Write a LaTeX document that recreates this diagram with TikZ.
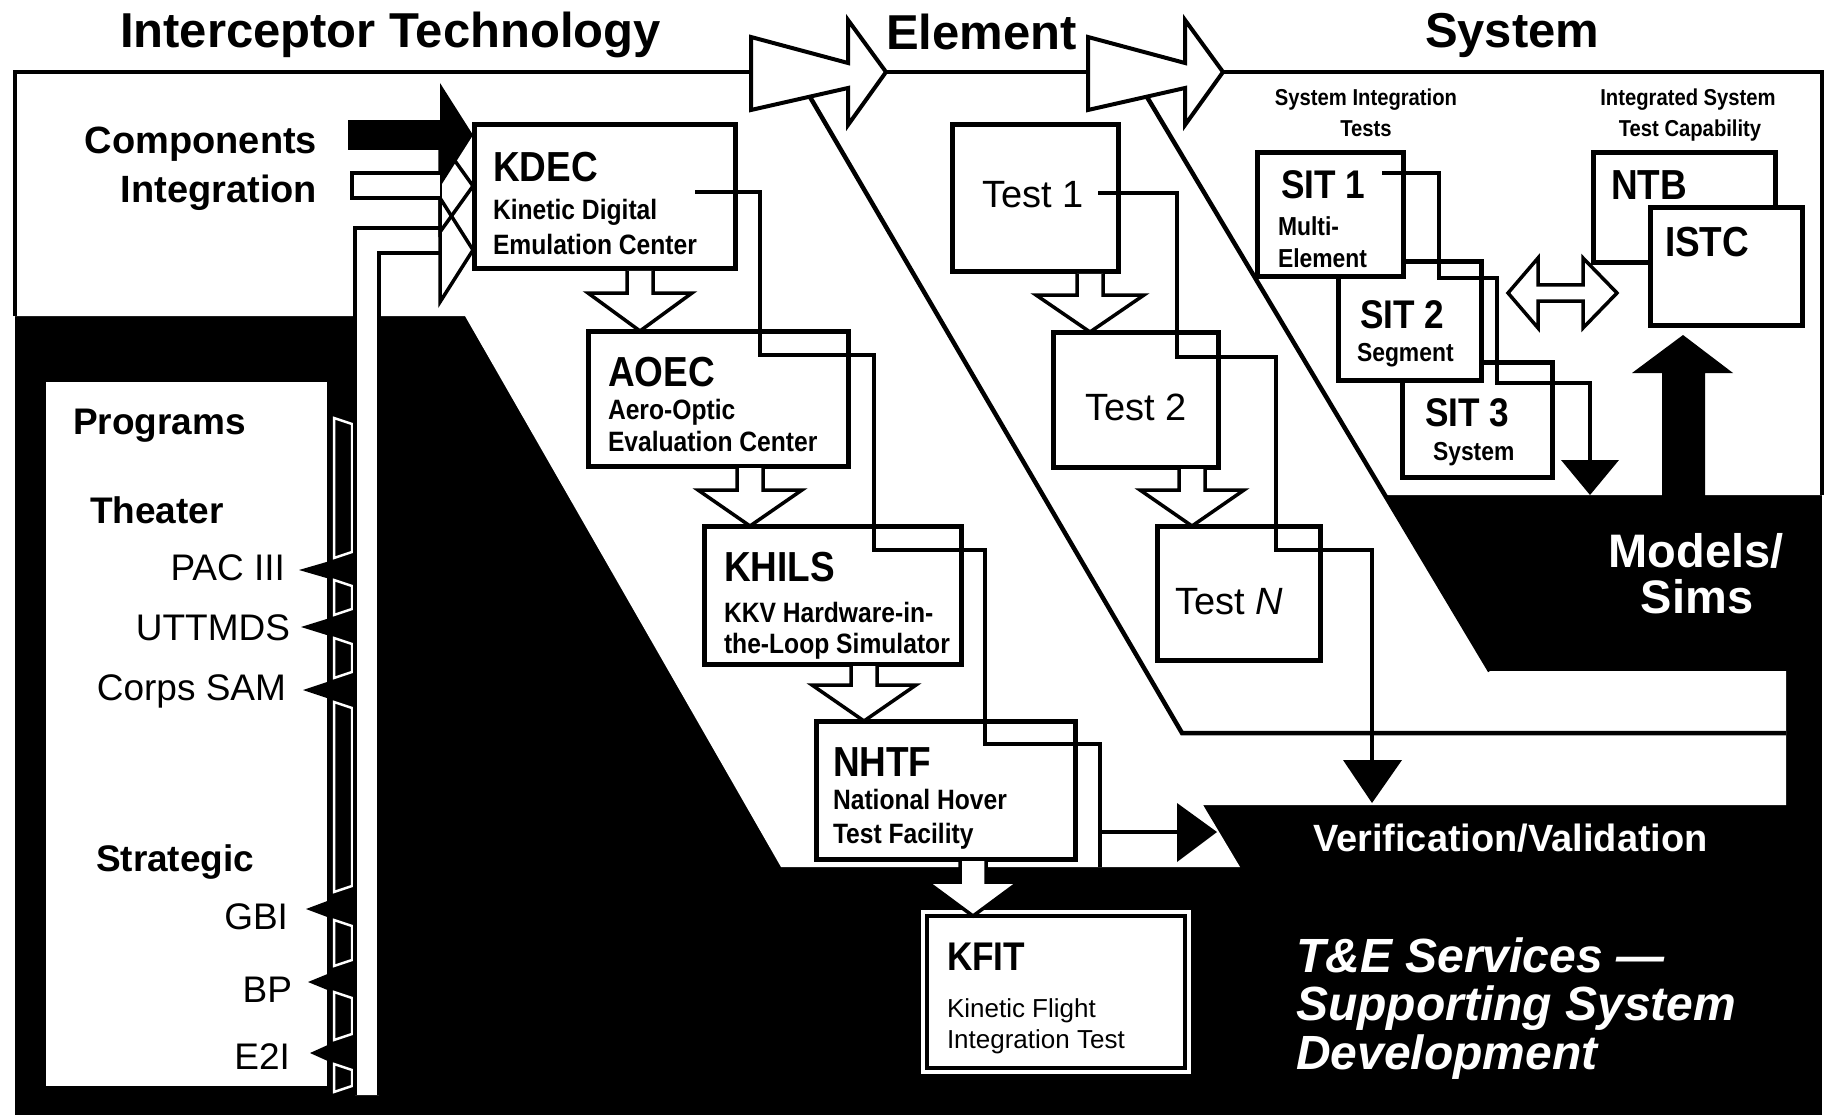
\documentclass[tikz,border=0pt]{standalone}
\usepackage{fontspec}
\setmainfont{Liberation Sans}
\newfontfamily\cnd{Liberation Sans}[FakeStretch=0.88]
\newcommand\hdown[5]{\filldraw[hollow] (#1-13,#2) -- (#1-13,#3) -- (#1-#5,#3) -- (#1,#4) -- (#1+#5,#3) -- (#1+13,#3) -- (#1+13,#2);}
\begin{document}
\begin{tikzpicture}[x=1pt,y=-1pt,line join=miter,
  every node/.style={inner sep=0pt,outer sep=0pt},
  titletext/.style={font=\fontsize{49}{55}\selectfont\bfseries,anchor=base west},
  boxhead/.style={font=\cnd\fontsize{42}{46}\selectfont\bfseries,anchor=base west},
  sithead/.style={font=\cnd\fontsize{40}{44}\selectfont\bfseries,anchor=base west},
  boxsub/.style={font=\cnd\fontsize{28}{32}\selectfont\bfseries,anchor=base west},
  sitsub/.style={font=\cnd\fontsize{26}{30}\selectfont\bfseries,anchor=base west},
  kfitsub/.style={font=\fontsize{26}{30}\selectfont,anchor=base west},
  sysnote/.style={font=\cnd\fontsize{23}{26}\selectfont\bfseries,anchor=base},
  progname/.style={font=\fontsize{37}{42}\selectfont,anchor=base east},
  proghead/.style={font=\fontsize{37}{42}\selectfont\bfseries,anchor=base west},
  sidelabel/.style={font=\fontsize{38}{42}\selectfont\bfseries,anchor=base east},
  testtext/.style={font=\fontsize{38}{42}\selectfont,anchor=base west},
  wbox/.style={draw=black,fill=white,line width=5pt,anchor=north west},
  conn/.style={draw=black,line width=3.2pt},
  divline/.style={draw=black,line width=4.5pt},
  frameline/.style={draw=black,line width=4pt},
  hollow/.style={draw=black,fill=white,line width=3.5pt},
  whiteout/.style={draw=white,line width=2.5pt}
]
\useasboundingbox (0,0) rectangle (1833,1115);
% ---------------- background regions
\fill[black] (15,72) rectangle (1822,1115);
\fill[white] (15,72) -- (1822,72) -- (1822,495) -- (1384,495) -- (1490,671) -- (1786,671)
  -- (1786,805) -- (1203,805) -- (1240,867) -- (781,867) -- (465,316) -- (15,316) -- cycle;
\draw[frameline] (15,316) -- (15,72) -- (1822,72) -- (1822,495);
% Programs panel
\fill[white] (46,382) rectangle (327,1086);
% program spikes
\foreach \yy/\xx in {570/299,627/301,690/303,909/306,982/308,1053/310}{
  \fill[black] (\xx,\yy) -- (330,\yy-9) -- (330,\yy+9) -- cycle;}
% column segments
\foreach \a/\b in {418/558,580/615,638/678,702/892,920/966,992/1040,1064/1092}{
  \draw[whiteout] (334,\a) -- (352,\a+6) -- (352,\b-6) -- (334,\b) -- cycle;}
% pipe from programs
\fill[white] (355,228) -- (440,228) -- (440,253) -- (379,253) -- (379,1095) -- (355,1095) -- cycle;
\draw[frameline] (355,1095) -- (355,228) -- (440,228);
\draw[frameline] (379,1095) -- (379,253) -- (440,253);
% stage dividers
\draw[divline] (810,97) -- (1182,733) -- (1786,733);
\draw[divline] (1147,97) -- (1490,671);
% big hollow arrows on top line
\filldraw[hollow,line width=4pt] (751,37) -- (848,63) -- (848,20) -- (886,72) -- (848,125) -- (848,88) -- (751,110) -- cycle;
\filldraw[hollow,line width=4pt] (1088,37) -- (1185,63) -- (1185,20) -- (1223,72) -- (1185,125) -- (1185,88) -- (1088,110) -- cycle;
% titles
\node[titletext] (tInt) at (120,48) {Interceptor Technology};
\node[titletext] (tEle) at (886,50) {Element};
\node[titletext] (tSys) at (1425,48) {System};
% left labels
\node[sidelabel] (lComp) at (317,154) {Components};
\node[sidelabel] (lInteg) at (317,203) {Integration};
% input arrows into KDEC
\fill[white] (440,198) -- (473,250) -- (440,302) -- cycle;
\fill[white] (440,140) -- (473,186) -- (440,232) -- cycle;
\draw[black,line width=3.5pt] (440,198) -- (473,250) -- (440,302) -- cycle;
\draw[black,line width=3.5pt] (440,140) -- (473,186) -- (440,232) -- cycle;
\filldraw[hollow] (440,173) -- (352,173) -- (352,198) -- (440,198);
\fill[black] (348,120) rectangle (441,150);
\fill[black] (440,83) -- (473,135) -- (440,187) -- cycle;
% Programs texts
\node[proghead] (pPrg) at (73,434) {Programs};
\node[proghead] (pThe) at (90,523) {Theater};
\node[progname] (pPac) at (285,580) {PAC III};
\node[progname] (pUtt) at (290,640) {UTTMDS};
\node[progname] (pCor) at (286,700) {Corps SAM};
\node[proghead] (pStr) at (96,871) {Strategic};
\node[progname] (pGbi) at (288,929) {GBI};
\node[progname] (pBp) at (292,1002) {BP};
\node[progname] (pE2i) at (290,1069) {E2I};
% ---------------- Interceptor technology boxes
\node[wbox,minimum width=261pt,minimum height=144pt] (kdec) at (474,125) {};
\node[wbox,minimum width=260pt,minimum height=135pt] (aoec) at (588,331) {};
\node[wbox,minimum width=257pt,minimum height=138pt] (khils) at (704,526) {};
\node[wbox,minimum width=259pt,minimum height=138pt] (nhtf) at (816,721) {};
\fill[white] (921,910) rectangle (1191,1074);
\node[wbox,line width=3.5pt,minimum width=258pt,minimum height=152pt] (kfit) at (927,916) {};
\node[boxhead] (kdecT) at (493,182) {KDEC};
\node[boxsub] (kdec1) at (493,220) {Kinetic Digital};
\node[boxsub] (kdec2) at (493,255) {Emulation Center};
\node[boxhead] (aoecT) at (608,386) {AOEC};
\node[boxsub] (aoec1) at (608,419) {Aero-Optic};
\node[boxsub] (aoec2) at (608,451) {Evaluation Center};
\node[boxhead] (khilsT) at (724,581) {KHILS};
\node[boxsub] (khils1) at (724,622) {KKV Hardware-in-};
\node[boxsub] (khils2) at (724,653) {the-Loop Simulator};
\node[boxhead] (nhtfT) at (833,776) {NHTF};
\node[boxsub] (nhtf1) at (833,809) {National Hover};
\node[boxsub] (nhtf2) at (833,843) {Test Facility};
\node[boxhead,font=\cnd\fontsize{40}{44}\selectfont\bfseries] (kfitT) at (947,970) {KFIT};
\node[kfitsub] (kfit1) at (947,1017) {Kinetic Flight};
\node[kfitsub] (kfit2) at (947,1048) {Integration Test};
% ---------------- Element boxes
\node[wbox,minimum width=166pt,minimum height=147pt] (test1) at (952,125) {};
\node[wbox,minimum width=165pt,minimum height=135pt] (test2) at (1053,332) {};
\node[wbox,minimum width=163pt,minimum height=134pt] (testn) at (1157,526) {};
\node[testtext] (test1T) at (982,208) {Test 1};
\node[testtext] (test2T) at (1085,420) {Test 2};
\node[testtext] (testnT) at (1175,614) {Test \textit{N}};
% ---------------- System boxes
\node[sysnote] (sitA) at (1366,106) {System Integration};
\node[sysnote] (sitB) at (1366,137) {Tests};
\node[sysnote] (istA) at (1688,106) {Integrated System};
\node[sysnote] (istB) at (1690,137) {Test Capability};
\node[wbox,minimum width=150pt,minimum height=115pt] (sit3) at (1402,362) {};
\node[wbox,minimum width=143pt,minimum height=118pt] (sit2) at (1338,262) {};
\node[wbox,minimum width=146pt,minimum height=124pt] (sit1) at (1257,153) {};
\node[sithead] (sit1T) at (1281,199) {SIT 1};
\node[sitsub] (sit1a) at (1278,236) {Multi-};
\node[sitsub] (sit1b) at (1278,268) {Element};
\node[sithead] (sit2T) at (1360,328) {SIT 2};
\node[sitsub] (sit2a) at (1357,361) {Segment};
\node[sithead] (sit3T) at (1425,426) {SIT 3};
\node[sitsub] (sit3a) at (1433,460) {System};
\node[wbox,minimum width=182pt,minimum height=110pt] (ntb) at (1593,153) {};
\node[wbox,minimum width=152pt,minimum height=117pt] (istc) at (1650,208) {};
\node[boxhead] (ntbT) at (1611,200) {NTB};
\node[boxhead] (istcT) at (1665,257) {ISTC};
% double arrow
\filldraw[hollow] (1508,293) -- (1538,258) -- (1538,285) -- (1583,285) -- (1583,258) -- (1617,293)
  -- (1583,328) -- (1583,301) -- (1538,301) -- (1538,328) -- cycle;
% Models/Sims up arrow
\fill[black] (1662,497) -- (1662,373) -- (1632,373) -- (1683,335) -- (1733,373) -- (1705,373) -- (1705,497) -- cycle;
% ---------------- hollow down arrows
\hdown{640}{271}{293}{331}{52}
\hdown{750}{468}{490}{526}{52}
\hdown{864}{666}{685}{721}{52}
\hdown{973}{861}{882}{916}{46}
\hdown{1090}{274}{295}{332}{54}
\hdown{1192}{469}{490}{526}{52}
% ---------------- connectors
\coordinate (i0) at (695,192); \coordinate (i1) at (760,192); \coordinate (i2) at (760,355);
\coordinate (i3) at (874,355); \coordinate (i4) at (874,550); \coordinate (i5) at (985,550);
\coordinate (i6) at (985,744); \coordinate (i7) at (1100,744); \coordinate (i8) at (1100,867);
\coordinate (i9) at (1100,832); \coordinate (i10) at (1178,832);
\draw[conn] (i0) -- (i1) -- (i2) -- (i3) -- (i4) -- (i5) -- (i6) -- (i7) -- (i8);
\draw[conn] (i9) -- (i10);
\fill[black] (1177,803) -- (1217,832) -- (1177,862) -- cycle;
\coordinate (e0) at (1098,193); \coordinate (e1) at (1177,193); \coordinate (e2) at (1177,357);
\coordinate (e3) at (1276,357); \coordinate (e4) at (1276,550); \coordinate (e5) at (1372,550);
\coordinate (e6) at (1372,762);
\draw[conn] (e0) -- (e1) -- (e2) -- (e3) -- (e4) -- (e5) -- (e6);
\fill[black] (1343,760) -- (1402,760) -- (1372,803) -- cycle;
\coordinate (s0) at (1382,173); \coordinate (s1) at (1439,173); \coordinate (s2) at (1439,278);
\coordinate (s3) at (1497,278); \coordinate (s4) at (1497,383); \coordinate (s5) at (1590,383);
\coordinate (s6) at (1590,462);
\draw[conn] (s0) -- (s1) -- (s2) -- (s3) -- (s4) -- (s5) -- (s6);
\fill[black] (1561,460) -- (1619,460) -- (1590,495) -- cycle;
% ---------------- white texts on black
\node[font=\fontsize{47}{52}\selectfont\bfseries,text=white,anchor=base] (ms1) at (1696,567) {Models/};
\node[font=\fontsize{47}{52}\selectfont\bfseries,text=white,anchor=base] (ms2) at (1697,613) {Sims};
\node[font=\fontsize{38}{42}\selectfont\bfseries,text=white,anchor=base west] (vv) at (1313,851) {Verification/Validation};
\node[font=\fontsize{48}{52}\selectfont\bfseries\itshape,text=white,anchor=base west] (te1) at (1296,972) {T\&E Services —};
\node[font=\fontsize{48}{52}\selectfont\bfseries\itshape,text=white,anchor=base west] (te2) at (1296,1020) {Supporting System};
\node[font=\fontsize{48}{52}\selectfont\bfseries\itshape,text=white,anchor=base west] (te3) at (1296,1069) {Development};
\end{tikzpicture}
\end{document}
